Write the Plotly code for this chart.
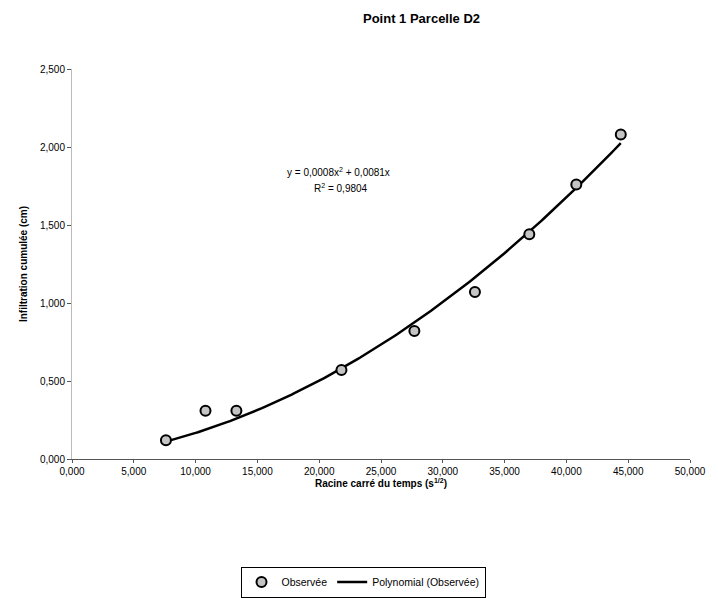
import numpy as np
import plotly.graph_objects as go

# Observed cumulative infiltration vs square root of time
sqrt_t = [7.6, 10.8, 13.3, 21.8, 27.7, 32.6, 37.0, 40.8, 44.4]
infil = [0.12, 0.31, 0.31, 0.57, 0.82, 1.07, 1.44, 1.76, 2.08]

x_ticks = [0, 5, 10, 15, 20, 25, 30, 35, 40, 45, 50]
x_tick_text = ["0,000", "5,000", "10,000", "15,000", "20,000", "25,000",
               "30,000", "35,000", "40,000", "45,000", "50,000"]
y_ticks = [0, 0.5, 1.0, 1.5, 2.0, 2.5]
y_tick_text = ["0,000", "0,500", "1,000", "1,500", "2,000", "2,500"]

# Second-order polynomial trendline through the origin (least squares)
xa = np.array(sqrt_t)
ya = np.array(infil)
A = np.column_stack([xa ** 2, xa])
coef, *_ = np.linalg.lstsq(A, ya, rcond=None)
xf = np.linspace(xa.min(), xa.max(), 200)
yf = coef[0] * xf ** 2 + coef[1] * xf

FONT = "Liberation Sans, Arial, sans-serif"
W, H = 718, 598

fig = go.Figure()
fig.add_trace(go.Scatter(
    x=xf, y=yf, mode="lines", name="Polynomial (Observée)",
    line=dict(color="black", width=2.5),
))
fig.add_trace(go.Scatter(
    x=sqrt_t, y=infil, mode="markers", name="Observée",
    marker=dict(symbol="circle", size=10, color="#c4c4c4",
                line=dict(color="black", width=2)),
))

fig.update_layout(
    width=W, height=H,
    margin=dict(l=72, r=21, t=69, b=139),
    paper_bgcolor="white", plot_bgcolor="white",
    font=dict(family=FONT, size=10, color="black"),
    showlegend=True,
    legend=dict(
        orientation="h",
        xref="container", x=363 / W, xanchor="center",
        yref="container", y=(H - 582) / H, yanchor="middle",
        traceorder="reversed",
        bordercolor="black", borderwidth=1,
        font=dict(family=FONT, size=10.5, color="black"),
        itemwidth=30, tracegroupgap=0,
    ),
    xaxis=dict(
        range=[0, 50], tickvals=x_ticks, ticktext=x_tick_text,
        showgrid=False, zeroline=False,
        showline=True, linecolor="#555", linewidth=1,
        ticks="outside", ticklen=3, tickcolor="#555",
        tickfont=dict(family=FONT, size=10),
        title=dict(text="<b>Racine carré du temps (s<sup>1/2</sup>)</b>",
                   font=dict(family=FONT, size=10), standoff=2),
    ),
    yaxis=dict(
        range=[0, 2.5], tickvals=y_ticks, ticktext=y_tick_text,
        showgrid=False, zeroline=False,
        showline=True, linecolor="#bbbbbb", linewidth=1,
        ticks="outside", ticklen=4, tickcolor="#555",
        tickfont=dict(family=FONT, size=10),
        title=dict(text="<b>Infiltration cumulée (cm)</b>",
                   font=dict(family=FONT, size=10), standoff=10),
    ),
    annotations=[
        dict(text="<b>Point 1 Parcelle D2</b>", xref="paper", yref="paper",
             x=(425 - 72) / 625, y=1.0 + (69 - 18) / 390,
             xanchor="center", yanchor="middle", showarrow=False,
             font=dict(family=FONT, size=13)),
        dict(text="y = 0,0008x<sup>2</sup> + 0,0081x", xref="x", yref="y",
             x=21.6, y=1.84, xanchor="center", yanchor="middle",
             showarrow=False, font=dict(family=FONT, size=10)),
        dict(text="R<sup>2</sup> = 0,9804", xref="x", yref="y",
             x=21.8, y=1.74, xanchor="center", yanchor="middle",
             showarrow=False, font=dict(family=FONT, size=10)),
    ],
)

fig.write_html("out.html")
